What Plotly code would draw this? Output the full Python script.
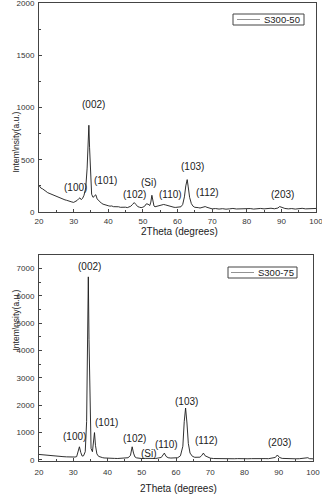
import plotly.graph_objects as go

# ---- S300-50 (top) ----
x50 = [20, 20.5, 21, 21.5, 22, 22.5, 23, 23.5, 24, 24.5, 25, 25.5, 26, 26.5, 27, 27.5, 28, 28.5, 29, 29.5,
       30, 30.5, 31, 31.5, 31.8, 32.2, 32.6, 33, 33.5, 33.9, 34.2, 34.4, 34.6, 34.9, 35.2, 35.6, 36, 36.4, 36.8,
       37.2, 37.6, 38, 38.5, 39, 39.5, 40, 40.5, 41, 41.5, 42, 42.5, 43, 43.5, 44, 44.5, 45, 45.5, 46, 46.5,
       47, 47.5, 48, 48.5, 49, 49.5, 50, 50.5, 51, 51.5, 52, 52.3, 52.6, 52.9, 53.2, 53.5, 54, 54.5, 55, 55.5,
       56, 56.5, 57, 57.5, 58, 58.5, 59, 59.5, 60, 60.5, 61, 61.5, 62, 62.4, 62.8, 63.1, 63.5, 64, 64.5, 65,
       65.5, 66, 66.5, 67, 67.5, 68, 68.5, 69, 69.5, 70, 71, 72, 73, 74, 75, 76, 77, 78, 79, 80, 81, 82, 83,
       84, 85, 86, 87, 88, 89, 89.5, 90, 91, 92, 93, 94, 95, 96, 97, 98, 99, 100]
y50 = [255, 230, 222, 205, 198, 185, 178, 168, 163, 152, 147, 140, 133, 128, 122, 116, 112, 104, 101, 96,
       92, 98, 110, 128, 135, 118, 132, 160, 230, 420, 700, 830, 620, 300, 170, 140, 155, 165, 125,
       110, 95, 85, 75, 68, 62, 60, 56, 58, 51, 53, 48, 50, 45, 47, 44, 46, 42, 48, 55,
       72, 90, 72, 52, 46, 42, 46, 55, 78, 75, 62, 95, 160, 95, 58, 50, 55, 60, 64, 70,
       72, 68, 63, 56, 50, 48, 45, 44, 45, 42, 50, 72, 145, 250, 310, 240, 140, 80, 55, 45,
       40, 42, 38, 42, 48, 52, 45, 38, 35, 30, 33, 28, 32, 27, 30, 34, 29, 31, 35, 30, 33, 28, 32,
       34, 30, 33, 36, 31, 38, 52, 45, 34, 30, 33, 28, 31, 35, 30, 33, 37, 34]

# ---- S300-75 (bottom) ----
x75 = [20, 21, 22, 23, 24, 25, 26, 27, 28, 29, 30, 30.5, 31, 31.4, 31.8, 32.2, 32.6, 33, 33.5, 33.9,
       34.2, 34.4, 34.6, 34.9, 35.2, 35.6, 35.9, 36.2, 36.5, 36.9, 37.4, 38, 38.5, 39, 39.5, 40, 41, 42, 43,
       44, 45, 46, 46.7, 47.2, 47.6, 48, 48.5, 49, 50, 51, 52, 52.5, 53, 54, 55, 55.7, 56.2, 56.6, 57.1, 57.7,
       58.5, 59.5, 60.5, 61.3, 62, 62.4, 62.8, 63.2, 63.6, 64.1, 64.8, 65.5, 66.3, 67, 67.5, 68, 68.5, 69.2, 70,
       71, 72, 73, 74, 75, 76, 77, 78, 79, 80, 81, 82, 83, 84, 85, 86, 87, 88, 89, 89.6, 90.2, 91, 92,
       93, 94, 95, 96, 97, 98, 98.5, 99, 100]
y75 = [200, 185, 170, 155, 145, 135, 128, 120, 112, 105, 100, 105, 120, 260, 480, 270, 140, 150, 300, 1400,
       4500, 6700, 4400, 1400, 420, 300, 600, 1000, 520, 220, 130, 95, 85, 72, 65, 60, 58, 55, 52,
       55, 60, 80, 160, 480, 250, 110, 75, 60, 50, 55, 60, 80, 55, 50, 60, 90, 180, 250, 130, 80,
       68, 70, 80, 150, 500, 1400, 1900, 1350, 600, 250, 130, 95, 85, 100, 160, 250, 150, 110, 65,
       50, 45, 42, 48, 40, 45, 42, 48, 40, 45, 42, 46, 40, 44, 42, 48, 45, 55, 90, 180, 90, 55, 45,
       42, 46, 40, 44, 48, 60, 80, 45, 40]

labels50 = ["(100)", "(002)", "(101)", "(102)", "(Si)", "(110)", "(103)", "(112)", "(203)"]
lx50 = [30.4, 35.6, 39.1, 47.7, 51.8, 58.1, 64.2, 68.8, 90.2]
ly50 = [230, 1030, 297, 172, 278, 163, 440, 191, 163]

labels75 = ["(100)", "(002)", "(101)", "(102)", "(Si)", "(110)", "(103)", "(112)", "(203)"]
lx75 = [30.5, 34.6, 39.6, 48.0, 52.1, 57.1, 63.2, 69.0, 90.1]
ly75 = [840, 7070, 1360, 770, 250, 550, 2120, 700, 620]

series_names = ["S300-50", "S300-75"]

W, H = 322, 495
def py(p):
    return 1 - p / H
def px(p):
    return p / W

FONT = "Liberation Sans, Arial, sans-serif"
TXT = "#222222"
fig = go.Figure()
fig.add_trace(go.Scatter(x=x50, y=y50, mode="lines", name=series_names[0], showlegend=False,
                         line=dict(color="#1a1a1a", width=0.9), xaxis="x", yaxis="y"))
fig.add_trace(go.Scatter(x=x75, y=y75, mode="lines", name=series_names[1], showlegend=False,
                         line=dict(color="#1a1a1a", width=0.9), xaxis="x2", yaxis="y2"))

ann = []
for t, x, y in zip(labels50, lx50, ly50):
    ann.append(dict(text=t, x=x, y=y, xref="x", yref="y", showarrow=False,
                    font=dict(size=10, color=TXT, family=FONT)))
for t, x, y in zip(labels75, lx75, ly75):
    ann.append(dict(text=t, x=x, y=y, xref="x2", yref="y2", showarrow=False,
                    font=dict(size=10, color=TXT, family=FONT)))
ann.append(dict(text="2Theta (degrees)", x=px(179), y=py(224.5), xref="paper", yref="paper",
                yanchor="top", showarrow=False, font=dict(size=10, color=TXT, family=FONT)))
ann.append(dict(text="2Theta (degrees)", x=px(178), y=py(481), xref="paper", yref="paper",
                yanchor="top", showarrow=False, font=dict(size=10, color=TXT, family=FONT)))
ann.append(dict(text="Intem\\nsity(a.u.)", x=px(8), y=py(110), xref="paper", yref="paper",
                textangle=-90, showarrow=False, font=dict(size=8.5, color=TXT, family=FONT)))
ann.append(dict(text="Intem\\nsity(a.u.)", x=px(8), y=py(353), xref="paper", yref="paper",
                textangle=-90, showarrow=False, font=dict(size=8.5, color=TXT, family=FONT)))

# manual legends (box, line sample, text)
shapes = []
legs = [(233, 304, 14, 25, 237, 260, 262, series_names[0]),
        (228, 297, 267, 278, 231, 254, 256, series_names[1])]
for x0, x1, y0, y1, l0, l1, tx, name in legs:
    shapes.append(dict(type="rect", xref="paper", yref="paper", x0=px(x0), x1=px(x1),
                       y0=py(y1), y1=py(y0), line=dict(color="#444", width=1), fillcolor="white"))
    ym = (y0 + y1) / 2
    shapes.append(dict(type="line", xref="paper", yref="paper", x0=px(l0), x1=px(l1),
                       y0=py(ym), y1=py(ym), line=dict(color="#777", width=0.8)))
    ann.append(dict(text=name, x=px(tx), y=py(ym), xref="paper", yref="paper",
                    xanchor="left", yanchor="middle", showarrow=False,
                    font=dict(size=9.5, color=TXT, family=FONT)))

axcommon = dict(showline=True, linecolor="#444", linewidth=1, mirror=True, ticks="inside",
                ticklen=3, tickcolor="#444", showgrid=False, zeroline=False,
                ticklabeloverflow="allow", automargin=False,
                tickfont=dict(size=8, color="#333", family=FONT))

fig.update_layout(
    width=W, height=H, margin=dict(l=0, r=0, t=0, b=0, autoexpand=False),
    paper_bgcolor="white", plot_bgcolor="white", showlegend=False,
    xaxis=dict(domain=[px(39), px(316)], range=[20, 100], anchor="y", dtick=10, ticklabelstandoff=1,
               minor=dict(ticks="inside", ticklen=2, dtick=5, tickcolor="#444"), **axcommon),
    yaxis=dict(domain=[py(212), py(3)], range=[0, 2000], anchor="x", dtick=500, ticklabelstandoff=2,
               minor=dict(ticks="inside", ticklen=2, dtick=250, tickcolor="#444"), **axcommon),
    xaxis2=dict(domain=[px(39), px(313)], range=[20, 100], anchor="y2", dtick=10, ticklabelstandoff=3,
                minor=dict(ticks="inside", ticklen=2, dtick=5, tickcolor="#444"), **axcommon),
    yaxis2=dict(domain=[py(461), py(255)], range=[-40, 7500], anchor="x2", dtick=1000, ticklabelstandoff=2,
                minor=dict(ticks="inside", ticklen=2, dtick=500, tickcolor="#444"), **axcommon),
    annotations=ann,
    shapes=shapes,
)
fig.write_html("out.html")
